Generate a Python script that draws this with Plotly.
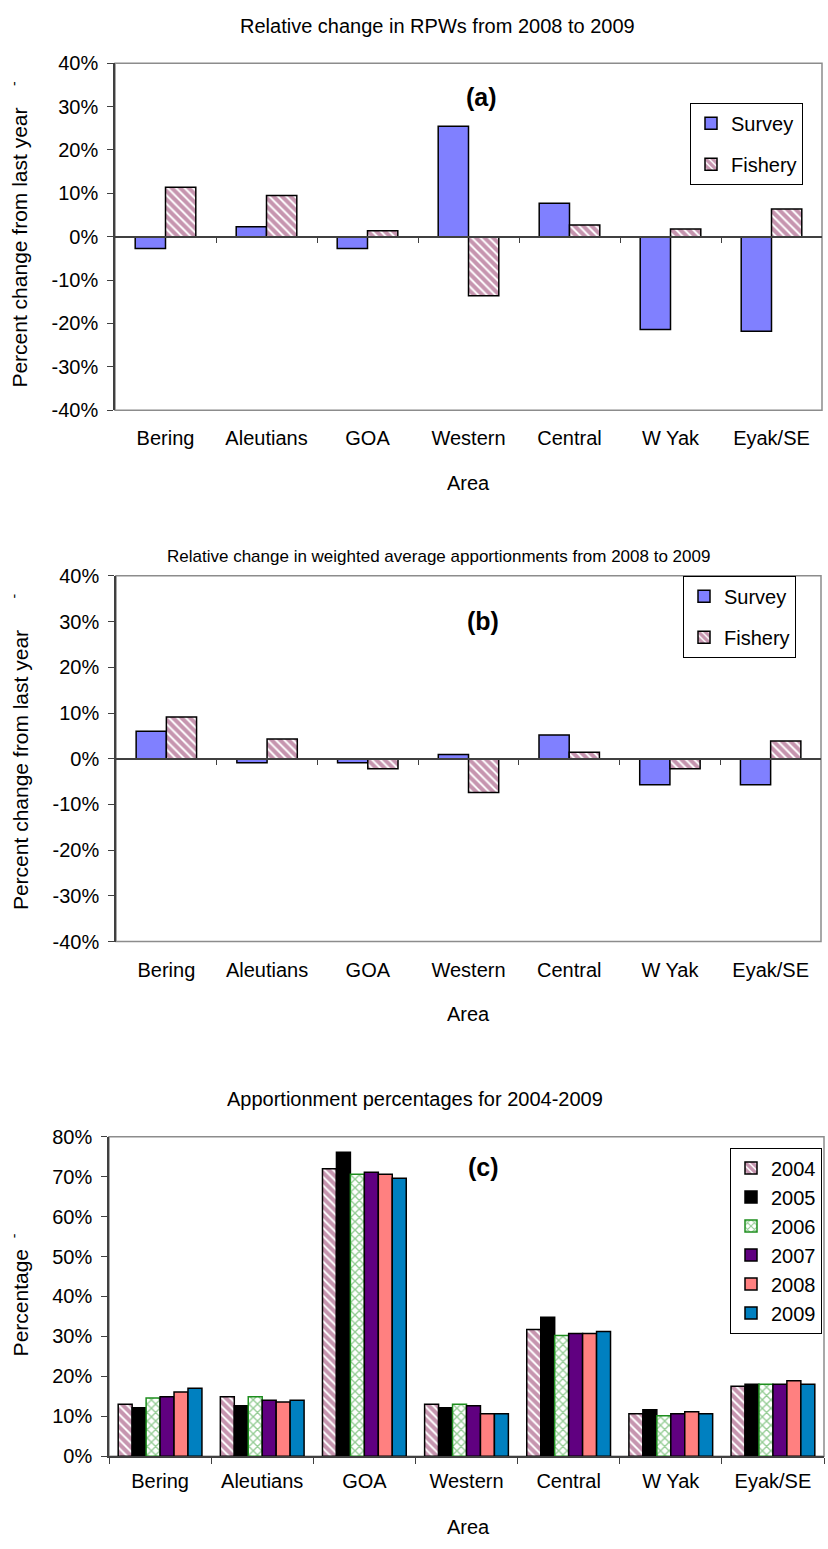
import plotly.graph_objects as go

# ---------------- data ----------------
areas = ["Bering", "Aleutians", "GOA", "Western", "Central", "W Yak", "Eyak/SE"]

rpw_survey = [-2.7, 2.3, -2.7, 25.5, 7.7, -21.4, -21.8]
rpw_fishery = [11.4, 9.5, 1.4, -13.6, 2.7, 1.8, 6.4]

wavg_survey = [6.0, -0.9, -0.9, 0.9, 5.2, -5.7, -5.7]
wavg_fishery = [9.1, 4.3, -2.2, -7.4, 1.4, -2.2, 3.9]

years = ["2004", "2005", "2006", "2007", "2008", "2009"]
app_2004 = [13.0, 14.9, 72.0, 13.0, 31.7, 10.6, 17.5]
app_2005 = [12.1, 12.6, 76.1, 12.1, 34.8, 11.6, 18.0]
app_2006 = [14.6, 14.9, 70.6, 13.0, 30.2, 10.1, 18.0]
app_2007 = [14.9, 14.0, 71.1, 12.6, 30.7, 10.6, 18.0]
app_2008 = [16.1, 13.6, 70.6, 10.6, 30.7, 11.1, 18.9]
app_2009 = [17.0, 14.0, 69.6, 10.6, 31.2, 10.6, 18.0]
app_series = [app_2004, app_2005, app_2006, app_2007, app_2008, app_2009]

change_ticks = [-40, -30, -20, -10, 0, 10, 20, 30, 40]
app_ticks = [0, 10, 20, 30, 40, 50, 60, 70, 80]

# ---------------- styling ----------------
W, H = 828, 1549
FONT = "Liberation Sans, Arial, sans-serif"
SURVEY_COLOR = "#8080FF"
STRIPE_COLOR = "#8E2C60"
TXT = 20


def px(y):
    return 1 - y / H


def pxx(x):
    return x / W


def stripes():
    return dict(shape="\\", fgcolor=STRIPE_COLOR, bgcolor="white", size=6, solidity=0.68, fillmode="overlay")


year_styles = [
    dict(color="white", pattern=stripes(), line=dict(color="black", width=1.5)),
    dict(color="black", line=dict(color="black", width=1.5)),
    dict(color="white", pattern=dict(shape="x", fgcolor="#2A9A2A", bgcolor="white", size=6, solidity=0.4, fillmode="overlay"),
         line=dict(color="#1E8E1E", width=1.5)),
    dict(color="#600080", line=dict(color="black", width=1.5)),
    dict(color="#FF8080", line=dict(color="black", width=1.5)),
    dict(color="#0080C0", line=dict(color="black", width=1.5)),
]

fig = go.Figure()

# panel (a)
fig.add_trace(go.Bar(x=areas, y=rpw_survey, name="Survey", xaxis="x", yaxis="y",
                     marker=dict(color=SURVEY_COLOR, line=dict(color="black", width=1.5)),
                     legend="legend", legendgroup="a1"))
fig.add_trace(go.Bar(x=areas, y=rpw_fishery, name="Fishery", xaxis="x", yaxis="y",
                     marker=dict(color="white", pattern=stripes(), line=dict(color="black", width=1.5)),
                     legend="legend", legendgroup="a2"))
# panel (b)
fig.add_trace(go.Bar(x=areas, y=wavg_survey, name="Survey", xaxis="x2", yaxis="y2",
                     marker=dict(color=SURVEY_COLOR, line=dict(color="black", width=1.5)),
                     legend="legend2", legendgroup="b1"))
fig.add_trace(go.Bar(x=areas, y=wavg_fishery, name="Fishery", xaxis="x2", yaxis="y2",
                     marker=dict(color="white", pattern=stripes(), line=dict(color="black", width=1.5)),
                     legend="legend2", legendgroup="b2"))

# panel (c)
c_gap = 0.18
bar_w = (1 - c_gap) / len(years)
for k, (yr, vals, st) in enumerate(zip(years, app_series, year_styles)):
    fig.add_trace(go.Bar(x=areas, y=vals, name=yr, xaxis="x3", yaxis="y3",
                         marker=st, legend="legend3",
                         width=bar_w, offset=-(1 - c_gap) / 2 + k * bar_w))

# empty traces to register the zero-line axes
fig.add_trace(go.Scatter(x=[], y=[], xaxis="x4", yaxis="y", showlegend=False))
fig.add_trace(go.Scatter(x=[], y=[], xaxis="x5", yaxis="y2", showlegend=False))

# geometry (pixels)
panels = {
    "a": dict(left=115, right=822, top=53, bottom=405),
    "b": dict(left=116, right=821, top=573, bottom=944),
    "c": dict(left=109, right=824, top=1142, bottom=1466),
}

tickfont = dict(family=FONT, size=TXT, color="black")
n = len(areas)


def xaxis_cfg(p, ticks=False):
    d = dict(domain=[pxx(p["left"]), pxx(p["right"])], type="category",
             categoryarray=areas, range=[-0.5, n - 0.5],
             showgrid=False, zeroline=False, showline=False,
             tickfont=tickfont, fixedrange=True)
    if ticks:
        d.update(ticks="outside", tickson="boundaries", ticklen=6, tickcolor="#404040",
                 showline=True, linecolor="#404040", linewidth=1.5, ticklabelstandoff=6)
    else:
        d.update(ticks="", ticklabelstandoff=14)
    return d


def yaxis_cfg(p, anchor, rng, tv):
    return dict(domain=[px(p["bottom"]), px(p["top"])], anchor=anchor, range=rng,
                tickvals=tv, ticktext=[f"{v}%" for v in tv],
                ticks="outside", ticklen=6, tickcolor="#404040",
                showline=True, linecolor="#404040", linewidth=1.5,
                showgrid=False, zeroline=False, tickfont=tickfont,
                ticklabelstandoff=5, fixedrange=True)


def zero_axis(p, over):
    mid = (px(p["bottom"]) + px(p["top"])) / 2
    return dict(overlaying=over, anchor="free", position=mid, range=[-0.5, n - 0.5],
                tickvals=[i + 0.5 for i in range(n - 1)], ticks="outside", ticklen=6,
                tickcolor="#404040", showline=True, linecolor="#404040", linewidth=1.5,
                showticklabels=False, showgrid=False, zeroline=False, fixedrange=True)


fig.update_layout(
    xaxis=dict(xaxis_cfg(panels["a"]), anchor="y"),
    yaxis=yaxis_cfg(panels["a"], "x", [-40, 40], change_ticks),
    xaxis2=dict(xaxis_cfg(panels["b"]), anchor="y2"),
    yaxis2=yaxis_cfg(panels["b"], "x2", [-40, 40], change_ticks),
    xaxis3=dict(xaxis_cfg(panels["c"], ticks=True), anchor="y3"),
    yaxis3=yaxis_cfg(panels["c"], "x3", [0, 80], app_ticks),
    xaxis4=zero_axis(panels["a"], "x"),
    xaxis5=zero_axis(panels["b"], "x2"),
)

# plot-area borders
for xr, yr in [("x", "y"), ("x2", "y2"), ("x3", "y3")]:
    fig.add_shape(type="rect", xref=f"{xr} domain", yref=f"{yr} domain",
                  x0=0, x1=1, y0=0, y1=1, line=dict(color="#8C8C8C", width=1.5), layer="below")

legend_common = dict(bgcolor="white", bordercolor="black", borderwidth=1,
                     font=dict(family=FONT, size=TXT, color="black"),
                     xanchor="right", yanchor="top", itemwidth=30)
fig.update_layout(
    legend=dict(legend_common, x=pxx(803), y=px(93), traceorder="grouped", tracegroupgap=12),
    legend2=dict(legend_common, x=pxx(796), y=px(573), traceorder="grouped", tracegroupgap=12),
    legend3=dict(legend_common, x=pxx(822), y=px(1153), traceorder="normal"),
)

ann = []
titles = [
    ("Relative change in RPWs from 2008 to 2009", 437, 15, 20),
    ("Relative change in weighted average apportionments from 2008 to 2009", 438, 553, 17),
    ("Apportionment percentages for 2004-2009", 415, 1104, 20),
]
for t, x, y, s in titles:
    ann.append(dict(text=t, x=pxx(x), y=px(y), xref="paper", yref="paper", showarrow=False,
                    xanchor="center", yanchor="middle", font=dict(family=FONT, size=s, color="black")))
for y in [479, 1017, 1538]:
    ann.append(dict(text="Area", x=pxx(469), y=px(y), xref="paper", yref="paper", showarrow=False,
                    xanchor="center", yanchor="middle", font=dict(family=FONT, size=TXT, color="black")))
ytitles = [
    ("Percent change from last year", 240, 73),
    ("Percent change from last year", 770, 593),
    ("Percentage", 1311, 1242),
]
for t, yc, ydash in ytitles:
    ann.append(dict(text=t, x=pxx(20), y=px(yc), xref="paper", yref="paper", showarrow=False,
                    textangle=-90, xanchor="center", yanchor="middle",
                    font=dict(family=FONT, size=21, color="black")))
    ann.append(dict(text="-", x=pxx(14), y=px(ydash), xref="paper", yref="paper", showarrow=False,
                    textangle=-90, xanchor="center", yanchor="middle",
                    font=dict(family=FONT, size=14, color="black")))
for t, x, y in [("(a)", 481, 87), ("(b)", 483, 619), ("(c)", 483, 1173)]:
    ann.append(dict(text=f"<b>{t}</b>", x=pxx(x), y=px(y), xref="paper", yref="paper", showarrow=False,
                    xanchor="center", yanchor="middle", font=dict(family=FONT, size=25, color="black")))

fig.update_layout(
    annotations=ann,
    width=W, height=H,
    margin=dict(l=0, r=0, t=0, b=0),
    paper_bgcolor="white", plot_bgcolor="white",
    barmode="group", bargap=0.4, bargroupgap=0,
    font=dict(family=FONT, color="black"),
)

fig.write_html("out.html", config={"displayModeBar": False},
               post_script="document.body.style.margin='0px';document.body.style.overflow='hidden';")
